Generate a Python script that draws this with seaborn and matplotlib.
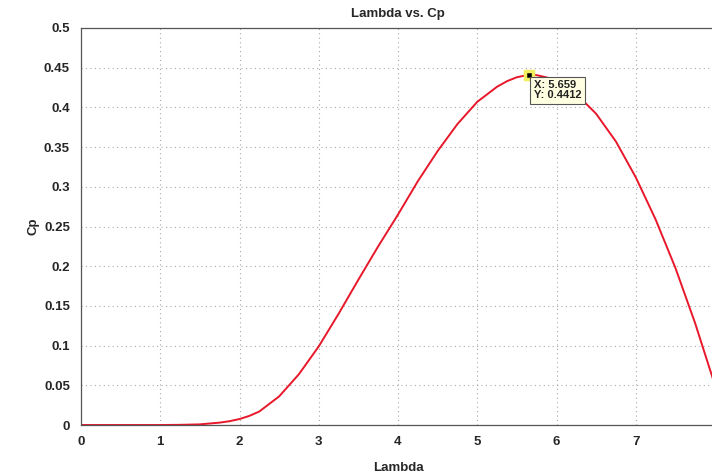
import numpy as np
import pandas as pd
import matplotlib
matplotlib.use('Agg')
import matplotlib.pyplot as plt
import seaborn as sns

# values
lam = [0, 0.5, 1.0, 1.25, 1.5, 1.75, 1.875, 2.0, 2.125, 2.25, 2.5, 2.75, 3.0,
       3.25, 3.5, 3.75, 4.0, 4.25, 4.5, 4.75, 5.0, 5.25, 5.375, 5.5, 5.659,
       5.75, 5.875, 6.0, 6.125, 6.25, 6.5, 6.75, 7.0, 7.25, 7.5, 7.75, 8.0]
cp = [0, 0, 0, 0.0002, 0.0008, 0.003, 0.0048, 0.0075, 0.0115, 0.017, 0.036,
      0.064, 0.099, 0.140, 0.183, 0.225, 0.265, 0.307, 0.345, 0.379, 0.407,
      0.426, 0.433, 0.438, 0.4412, 0.4406, 0.4378, 0.433, 0.4258, 0.417,
      0.392, 0.357, 0.312, 0.259, 0.198, 0.128, 0.050]
tip_x = 5.659
tip_y = 0.4412
x_ticks = [0, 1, 2, 3, 4, 5, 6, 7]
y_ticks = [0, 0.05, 0.1, 0.15, 0.2, 0.25, 0.3, 0.35, 0.4, 0.45, 0.5]
y_labels = ['0', '0.05', '0.1', '0.15', '0.2', '0.25', '0.3', '0.35', '0.4', '0.45', '0.5']

df = pd.DataFrame({'Lambda': lam, 'Cp': cp})

sns.set_style('white')
plt.rcParams['font.family'] = ['Liberation Sans', 'DejaVu Sans']
plt.rcParams['font.weight'] = 'bold'

fig = plt.figure(figsize=(7.12, 4.74), dpi=100)
ax = fig.add_axes([81 / 712, 1 - 425 / 474, 634 / 712, 397 / 474])

sns.lineplot(df, x='Lambda', y='Cp', color='#e8182a', linewidth=1.4, ax=ax)

# data tip
ax.plot([tip_x], [tip_y], marker='s', markersize=6, color='black',
        markeredgecolor='#f2ee60', markeredgewidth=2.5, zorder=5)
ax.annotate('X: 5.659\nY: 0.4412', xy=(tip_x, tip_y), xytext=(3, -4),
            textcoords='offset points', ha='left', va='top', fontsize=8,
            fontweight='bold', color='#222222', linespacing=1.0,
            bbox=dict(boxstyle='square,pad=0.3', fc='#ffffe1', ec='#555555', lw=0.8),
            zorder=6)

ax.set_xlim(0, 8)
ax.set_ylim(0, 0.5)
ax.set_xticks(x_ticks)
ax.set_yticks(y_ticks)
ax.set_yticklabels(y_labels)
ax.grid(True, linestyle=(0, (1, 3)), color='#aaaaaa', linewidth=0.8)
ax.tick_params(direction='in', length=4, labelsize=9.5, color='#555555', pad=8)
for s in ax.spines.values():
    s.set_color('#555555')
    s.set_linewidth(0.9)

ax.set_title('Lambda vs. Cp', fontsize=9.5, fontweight='bold', pad=8)
ax.set_xlabel('Lambda', fontsize=9.5, fontweight='bold', labelpad=10)
ax.set_ylabel('Cp', fontsize=9.5, fontweight='bold', labelpad=3)

fig.savefig('out.png', dpi=100)
